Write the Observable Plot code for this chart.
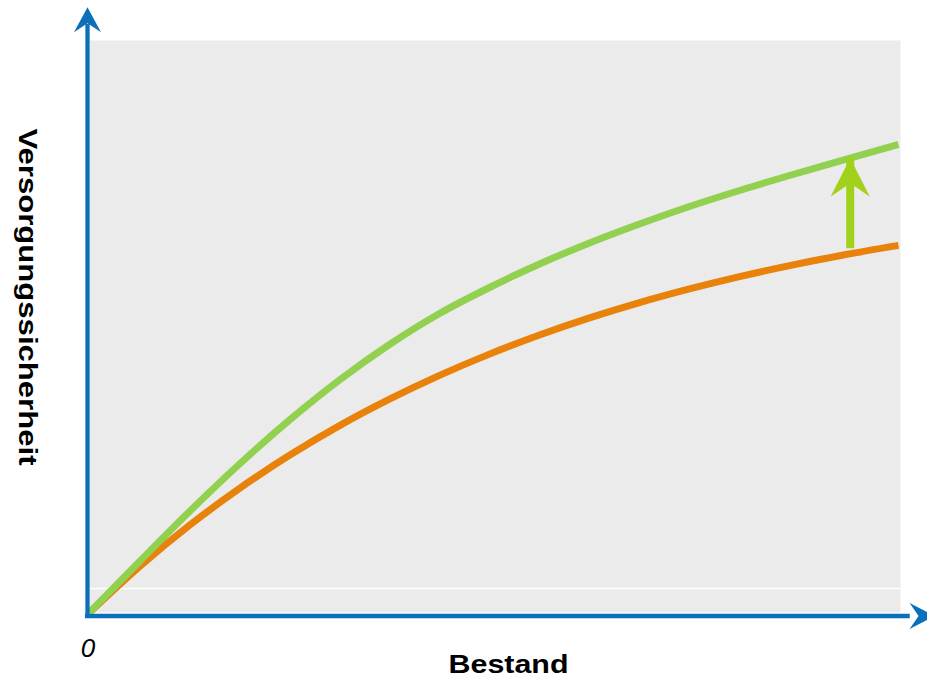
<!DOCTYPE html>
<html>
<head>
<meta charset="utf-8">
<script src="https://cdn.jsdelivr.net/npm/d3@7"></script>
<script src="https://cdn.jsdelivr.net/npm/@observablehq/plot@0.6"></script>
<style>
  html, body { margin: 0; padding: 0; background: #fff; overflow: hidden; }
  #chart svg { display: block; }
</style>
</head>
<body>
<div id="chart"></div>
<script>
// Curve values (x = Bestand, y = Versorgungssicherheit)
const greenX  = [0, 6.17, 12.33, 18.50, 24.66, 30.83, 36.99, 43.16, 49.32, 55.49, 61.65, 67.82, 73.98, 80.15, 86.31, 92.48, 99.75];
const greenY  = [0, 8.92, 17.66, 25.96, 33.65, 40.65, 46.85, 52.27, 56.82, 60.93, 64.60, 67.92, 70.98, 73.78, 76.40, 78.93, 81.82];
const orangeX = [0, 6.17, 12.33, 18.50, 24.66, 30.83, 36.99, 43.16, 49.32, 55.49, 61.65, 67.82, 73.98, 80.15, 86.31, 92.48, 99.75];
const orangeY = [0, 8.04, 15.24, 21.70, 27.48, 32.67, 37.29, 41.45, 45.17, 48.51, 51.50, 54.18, 56.57, 58.72, 60.65, 62.38, 64.18];

// Improvement arrow (from orange curve up to green curve)
const arrowX = [93.8];
const arrowFrom = [63.6];
const arrowTo = [79.4];

// Axis extents and labels
const axisTipX = [104.2];
const axisTipY = [105.8];
const gridY = [4.2];
const originLabel = ["0"];
const xLabel = ["Bestand"];
const yLabel = ["Versorgungssicherheit"];

const green = greenX.map((x, i) => ({x, y: greenY[i]}));
const orange = orangeX.map((x, i) => ({x, y: orangeY[i]}));
const arrow = arrowX.map((x, i) => ({x, y1: arrowFrom[i], y2: arrowTo[i]}));

const BLUE = "#0b6fba";
const FONT = "'Liberation Sans', Arial, Helvetica, sans-serif";

// notched arrow heads with tip at origin
const headUp = {draw(c) { c.moveTo(0, 0); c.lineTo(13.5, 25); c.lineTo(0, 16); c.lineTo(-13.5, 25); c.closePath(); }};
const headRight = {draw(c) { c.moveTo(0, 0); c.lineTo(-25, -13); c.lineTo(-16, 0); c.lineTo(-25, 13); c.closePath(); }};
const bigHeadUp = {draw(c) { c.moveTo(0, 0); c.lineTo(19.7, 38.5); c.lineTo(0, 25); c.lineTo(-19.7, 38.5); c.closePath(); }};

const chart = Plot.plot({
  width: 927,
  height: 677,
  marginLeft: 89,
  marginRight: 27,
  marginTop: 40,
  marginBottom: 65,
  x: {domain: [0, 100], axis: null},
  y: {domain: [0, 100], axis: null},
  style: {background: "white", overflow: "visible", fontFamily: FONT},
  marks: [
    Plot.frame({fill: "#ebebeb", stroke: "none"}),
    Plot.ruleY(gridY, {stroke: "white", strokeWidth: 1.5}),
    Plot.line(orange, {x: "x", y: "y", stroke: "#e8820a", strokeWidth: 7, curve: "monotone-x", strokeLinecap: "butt"}),
    Plot.line(green, {x: "x", y: "y", stroke: "#92d050", strokeWidth: 7, curve: "monotone-x", strokeLinecap: "butt"}),
    Plot.ruleX(arrow, {x: "x", y1: "y1", y2: "y2", stroke: "#a2d11c", strokeWidth: 8}),
    Plot.dot(arrow, {x: "x", y: "y2", symbol: bigHeadUp, fill: "#a2d11c", stroke: "none"}),
    // axes
    Plot.ruleX([0], {y1: -0.96, y2: axisTipY[0] - 3, dx: -2, stroke: BLUE, strokeWidth: 4.3}),
    Plot.ruleY([0], {x1: -0.5, x2: axisTipX[0] - 3, dy: 3.5, stroke: BLUE, strokeWidth: 4.3}),
    Plot.dot(axisTipY, {x: 0, y: d => d, dx: -2, symbol: headUp, fill: BLUE, stroke: "none"}),
    Plot.dot(axisTipX, {x: d => d, y: 0, dy: 3.5, symbol: headRight, fill: BLUE, stroke: "none"}),
    // labels
    Plot.text(originLabel, {frameAnchor: "bottom-left", text: d => d, dx: -1.6, dy: 36.3, fontSize: 26, fontStyle: "italic", fill: "#000", textAnchor: "middle", lineAnchor: "middle"}),
    Plot.text(xLabel, {frameAnchor: "bottom", text: d => d, dx: 13.5, dy: 51.7, fontSize: 26, fontWeight: "bold", fill: "#000", textAnchor: "middle", lineAnchor: "middle"}),
    Plot.text(yLabel, {frameAnchor: "left", text: d => d, dx: -62.4, dy: -29.5, rotate: 90, fontSize: 26, fontWeight: "bold", fill: "#000", textAnchor: "middle", lineAnchor: "middle"})
  ]
});

// the reference glyphs are drawn wider than the font's natural width
const stretch = {"Bestand": 120, "Versorgungssicherheit": 337};
d3.select(chart).selectAll("text").each(function () {
  const t = this.textContent;
  if (stretch[t]) {
    d3.select(this).attr("textLength", stretch[t]).attr("lengthAdjust", "spacingAndGlyphs");
  }
});

document.getElementById("chart").appendChild(chart);
</script>
</body>
</html>
